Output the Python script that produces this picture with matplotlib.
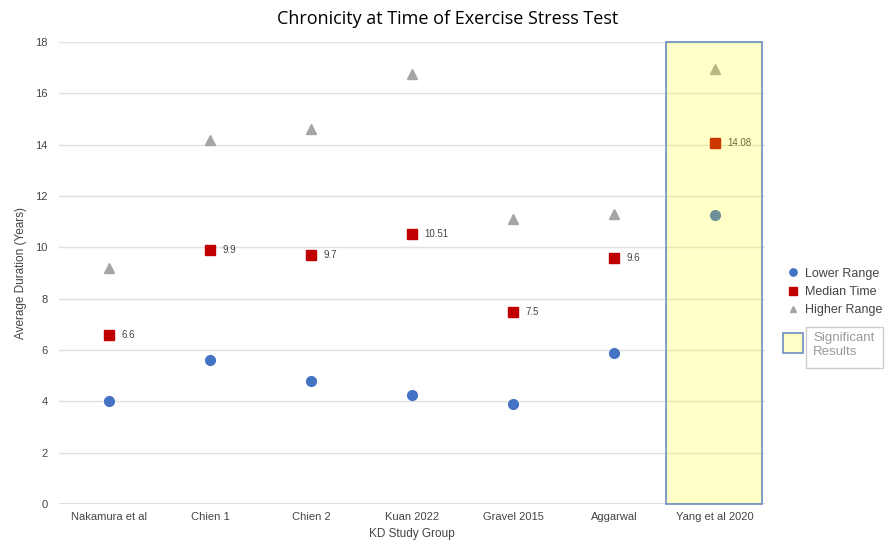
import matplotlib.pyplot as plt
import matplotlib.patches as mpatches
import numpy as np

plt.rcParams['font.family'] = ['Liberation Sans', 'DejaVu Sans']

groups = ["Nakamura et al", "Chien 1", "Chien 2", "Kuan 2022", "Gravel 2015", "Aggarwal", "Yang et al 2020"]
lower = [4.0, 5.6, 4.8, 4.25, 3.9, 5.9, 11.25]
median = [6.6, 9.9, 9.7, 10.51, 7.5, 9.6, 14.08]
higher = [9.2, 14.2, 14.6, 16.75, 11.1, 11.3, 16.95]
median_labels = ["6.6", "9.9", "9.7", "10.51", "7.5", "9.6", "14.08"]
highlight = "Yang et al 2020"

fig = plt.figure(figsize=(8.96, 5.53), dpi=100)
ax = fig.add_axes([0.0658, 0.0886, 0.7882, 0.8354])

x = np.arange(len(groups))
ax.plot(x, lower, 'o', color='#4472C4', markersize=7, label='Lower Range', zorder=3)
ax.plot(x, median, 's', color='#C00000', markersize=7.5, label='Median Time', zorder=3)
ax.plot(x, higher, '^', color='#A5A5A5', markersize=6.5, label='Higher Range', zorder=3)

for xi, yi, lab in zip(x, median, median_labels):
    ax.annotate(lab, (xi, yi), xytext=(9, 0), textcoords='offset points',
                va='center', ha='left', fontsize=7, color='#444444', zorder=4)

# highlight box drawn over the points
hi = groups.index(highlight)
ax.add_patch(mpatches.Rectangle((hi - 0.48, 0), 0.95, 18, facecolor='#FFFF00', alpha=0.22,
                                edgecolor='none', zorder=5))
ax.add_patch(mpatches.Rectangle((hi - 0.48, 0), 0.95, 18, facecolor='none',
                                edgecolor='#6C8EBF', linewidth=1.2, zorder=6, clip_on=False))

ax.set_xlim(-0.5, len(groups) - 0.5)
ax.set_ylim(0, 18)
ax.set_yticks(np.arange(0, 19, 2))
ax.set_xticks(x, labels=groups)
ax.grid(axis='y', color='#E0E0E0', linewidth=1)
ax.axhline(0, color='#E0E0E0', linewidth=1.5, zorder=0.5)
ax.set_axisbelow(True)
for s in ax.spines.values():
    s.set_visible(False)
ax.tick_params(length=0, labelsize=8, labelcolor='#444444', pad=8)
ax.tick_params(axis='x', pad=6)

ax.set_xlabel('KD Study Group', fontsize=8.5, color='#444444', labelpad=4)
ax.set_ylabel('Average Duration (Years)', fontsize=8.5, color='#444444', labelpad=6)
fig.suptitle('Chronicity at Time of Exercise Stress Test', x=0.5, y=0.982,
             fontsize=13, color='black', family=['Open Sans', 'DejaVu Sans'])

fig.legend(loc='upper left', bbox_to_anchor=(0.872, 0.525), frameon=False,
           fontsize=9, labelcolor='#444444', handletextpad=0.5, labelspacing=0.5,
           handlelength=1.0, borderaxespad=0, markerscale=0.75)

# "Significant Results" key
fig.patches.append(mpatches.Rectangle((783 / 896, 1 - 353 / 553), 20 / 896, 20 / 553,
                                      transform=fig.transFigure, facecolor='#FFFFC8',
                                      edgecolor='#6C8EBF', linewidth=1.2))
fig.patches.append(mpatches.Rectangle((806 / 896, 1 - 368 / 553), 77 / 896, 41 / 553,
                                      transform=fig.transFigure, facecolor='white',
                                      edgecolor='#CCCCCC', linewidth=1))
fig.text(813 / 896, 1 - 338 / 553, 'Significant', fontsize=9.5, color='#999999',
         va='center', ha='left')
fig.text(813 / 896, 1 - 352 / 553, 'Results', fontsize=9.5, color='#999999',
         va='center', ha='left')

fig.savefig('out.png', dpi=100)
